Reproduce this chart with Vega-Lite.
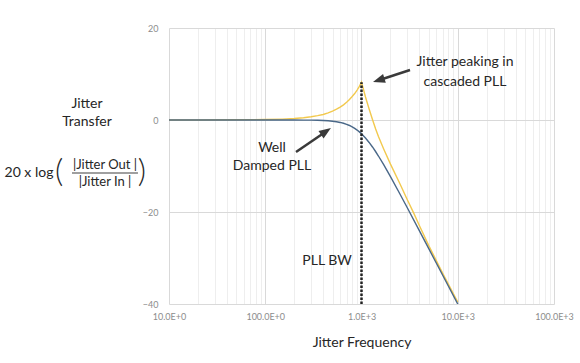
{
  "$schema": "https://vega.github.io/schema/vega-lite/v6.json",
  "width": 385,
  "height": 276,
  "autosize": {"type": "none"},
  "padding": {"left": 169, "top": 28, "right": 26, "bottom": 59},
  "background": "white",
  "config": {"view": {"stroke": null}, "font": "Lato"},
  "datasets": {
    "curves": [
      {"series": "cascaded", "f": 10, "db": 0},
      {"series": "cascaded", "f": 20, "db": 0.01},
      {"series": "cascaded", "f": 50, "db": 0.04},
      {"series": "cascaded", "f": 100, "db": 0.1},
      {"series": "cascaded", "f": 150, "db": 0.2},
      {"series": "cascaded", "f": 200, "db": 0.32},
      {"series": "cascaded", "f": 250, "db": 0.5},
      {"series": "cascaded", "f": 300, "db": 0.7},
      {"series": "cascaded", "f": 350, "db": 0.95},
      {"series": "cascaded", "f": 400, "db": 1.2},
      {"series": "cascaded", "f": 450, "db": 1.55},
      {"series": "cascaded", "f": 500, "db": 1.95},
      {"series": "cascaded", "f": 550, "db": 2.35},
      {"series": "cascaded", "f": 600, "db": 2.8},
      {"series": "cascaded", "f": 650, "db": 3.3},
      {"series": "cascaded", "f": 700, "db": 3.85},
      {"series": "cascaded", "f": 750, "db": 4.45},
      {"series": "cascaded", "f": 800, "db": 5.1},
      {"series": "cascaded", "f": 850, "db": 5.75},
      {"series": "cascaded", "f": 900, "db": 6.5},
      {"series": "cascaded", "f": 950, "db": 7.3},
      {"series": "cascaded", "f": 1000, "db": 8.2},
      {"series": "cascaded", "f": 1050, "db": 6.6},
      {"series": "cascaded", "f": 1100, "db": 5.0},
      {"series": "cascaded", "f": 1200, "db": 2.4},
      {"series": "cascaded", "f": 1300, "db": 0.1},
      {"series": "cascaded", "f": 1400, "db": -1.9},
      {"series": "cascaded", "f": 1500, "db": -3.6},
      {"series": "cascaded", "f": 1700, "db": -6.3},
      {"series": "cascaded", "f": 2000, "db": -9.6},
      {"series": "cascaded", "f": 2500, "db": -13.8},
      {"series": "cascaded", "f": 3000, "db": -17.4},
      {"series": "cascaded", "f": 3500, "db": -20.3},
      {"series": "cascaded", "f": 4000, "db": -23.0},
      {"series": "cascaded", "f": 5000, "db": -27.3},
      {"series": "cascaded", "f": 7000, "db": -33.4},
      {"series": "cascaded", "f": 10000, "db": -39.6},
      {"series": "damped", "f": 10, "db": 0},
      {"series": "damped", "f": 50, "db": 0},
      {"series": "damped", "f": 100, "db": 0},
      {"series": "damped", "f": 150, "db": -0.002},
      {"series": "damped", "f": 200, "db": -0.007},
      {"series": "damped", "f": 250, "db": -0.017},
      {"series": "damped", "f": 300, "db": -0.035},
      {"series": "damped", "f": 350, "db": -0.065},
      {"series": "damped", "f": 400, "db": -0.11},
      {"series": "damped", "f": 450, "db": -0.175},
      {"series": "damped", "f": 500, "db": -0.263},
      {"series": "damped", "f": 550, "db": -0.38},
      {"series": "damped", "f": 600, "db": -0.53},
      {"series": "damped", "f": 650, "db": -0.714},
      {"series": "damped", "f": 700, "db": -0.933},
      {"series": "damped", "f": 750, "db": -1.193},
      {"series": "damped", "f": 800, "db": -1.489},
      {"series": "damped", "f": 850, "db": -1.823},
      {"series": "damped", "f": 900, "db": -2.188},
      {"series": "damped", "f": 950, "db": -2.588},
      {"series": "damped", "f": 1000, "db": -3.01},
      {"series": "damped", "f": 1100, "db": -3.917},
      {"series": "damped", "f": 1200, "db": -4.877},
      {"series": "damped", "f": 1300, "db": -5.861},
      {"series": "damped", "f": 1400, "db": -6.85},
      {"series": "damped", "f": 1500, "db": -7.826},
      {"series": "damped", "f": 1700, "db": -9.709},
      {"series": "damped", "f": 2000, "db": -12.304},
      {"series": "damped", "f": 2500, "db": -16.027},
      {"series": "damped", "f": 3000, "db": -19.138},
      {"series": "damped", "f": 4000, "db": -24.099},
      {"series": "damped", "f": 5000, "db": -27.966},
      {"series": "damped", "f": 7000, "db": -33.806},
      {"series": "damped", "f": 10000, "db": -40.0}
    ]
  },
  "encoding": {
    "x": {
      "field": "f",
      "type": "quantitative",
      "scale": {"type": "log", "domain": [10, 100000]},
      "axis": {
        "title": "Jitter Frequency",
        "titleFont": "Lato",
        "titleFontSize": 14,
        "titleFontWeight": "normal",
        "titleColor": "#262626",
        "titlePadding": 14,
        "values": [10,20,30,40,50,60,70,80,90,100,200,300,400,500,600,700,800,900,1000,2000,3000,4000,5000,6000,7000,8000,9000,10000,20000,30000,40000,50000,60000,70000,80000,90000,100000],
        "labelExpr": "datum.value == 10 ? '10.0E+0' : datum.value == 100 ? '100.0E+0' : datum.value == 1000 ? '1.0E+3' : datum.value == 10000 ? '10.0E+3' : datum.value == 100000 ? '100.0E+3' : ''",
        "labelOverlap": false,
        "labelFlush": false,
        "labelFontSize": 9,
        "labelColor": "#8c8c8c",
        "labelPadding": 8,
        "ticks": false,
        "domain": false,
        "grid": true,
        "gridColor": {"condition": {"test": "indexof([10,100,1000,10000,100000], datum.value) >= 0", "value": "#d9d9d9"}, "value": "#eeeeee"},
        "gridWidth": 1
      }
    },
    "y": {
      "field": "db",
      "type": "quantitative",
      "scale": {"domain": [-40, 20]},
      "axis": {
        "title": null,
        "values": [-40, -20, 0, 20],
        "labelFontSize": 9,
        "labelColor": "#8c8c8c",
        "labelPadding": 11,
        "ticks": false,
        "domain": false,
        "grid": true,
        "gridColor": "#d9d9d9"
      }
    }
  },
  "layer": [
    {
      "data": {"name": "curves"},
      "transform": [{"filter": "datum.series == 'cascaded'"}],
      "mark": {"type": "line", "color": "#f2c94e", "strokeWidth": 1.4, "clip": true}
    },
    {
      "data": {"name": "curves"},
      "transform": [{"filter": "datum.series == 'damped'"}],
      "mark": {"type": "line", "color": "#4a6888", "strokeWidth": 1.4, "clip": true}
    },
    {
      "data": {"values": [{"f": 1000, "db": -40, "db2": 8.2}]},
      "mark": {"type": "rule", "color": "#222222", "strokeWidth": 2.5, "strokeDash": [2.5, 1.5]},
      "encoding": {"y2": {"field": "db2"}}
    },
    {
      "data": {"values": [
        {"f": 3192, "db": 10.87, "f2": 1510, "db2": 8.65},
        {"f": 208.7, "db": -6.96, "f2": 427.6, "db2": -2.48}
      ]},
      "mark": {"type": "rule", "color": "#3a3a3a", "strokeWidth": 2.5},
      "encoding": {"x2": {"field": "f2"}, "y2": {"field": "db2"}}
    },
    {
      "data": {"values": [
        {"f": 1510, "db": 8.65, "ang": 252},
        {"f": 427.6, "db": -2.48, "ang": 55.5}
      ]},
      "mark": {"type": "point", "shape": "M0,-1L0.75,1L-0.75,1Z", "filled": true, "size": 144, "color": "#3a3a3a", "opacity": 1},
      "encoding": {"angle": {"field": "ang", "type": "quantitative", "scale": null}}
    },
    {
      "data": {"values": [
        {"f": 11890, "db": 12.6, "label": "Jitter peaking in"},
        {"f": 11890, "db": 8.26, "label": "cascaded PLL"},
        {"f": 117.5, "db": -6.09, "label": "Well"},
        {"f": 117.5, "db": -10.0, "label": "Damped PLL"},
        {"f": 438, "db": -30.65, "label": "PLL BW"},
        {"f": 1.406, "db": 3.48, "label": "Jitter"},
        {"f": 1.406, "db": -0.43, "label": "Transfer"},
        {"f": 0.351, "db": -11.52, "label": "20 x log"}
      ]},
      "mark": {"type": "text", "fontSize": 14, "color": "#262626", "align": "center", "baseline": "middle", "font": "Lato"},
      "encoding": {"text": {"field": "label"}}
    },
    {
      "data": {"values": [
        {"f": 2.163, "db": -9.78, "label": "|Jitter Out |"},
        {"f": 2.163, "db": -13.48, "label": "|Jitter In |"}
      ]},
      "mark": {"type": "text", "fontSize": 13, "color": "#262626", "align": "center", "baseline": "middle", "font": "Lato"},
      "encoding": {"text": {"field": "label"}}
    },
    {
      "data": {"values": [
        {"f": 0.72, "db": -11.3, "label": "("},
        {"f": 5.24, "db": -11.3, "label": ")"}
      ]},
      "mark": {"type": "text", "fontSize": 32, "color": "#262626", "align": "center", "baseline": "middle", "font": "Lato", "fontWeight": 300},
      "encoding": {"text": {"field": "label"}}
    },
    {
      "data": {"values": [{"f": 0.982, "f2": 4.76, "db": -11.52}]},
      "mark": {"type": "rule", "color": "#7f7f7f", "strokeWidth": 1.5},
      "encoding": {"x2": {"field": "f2"}}
    }
  ]
}
